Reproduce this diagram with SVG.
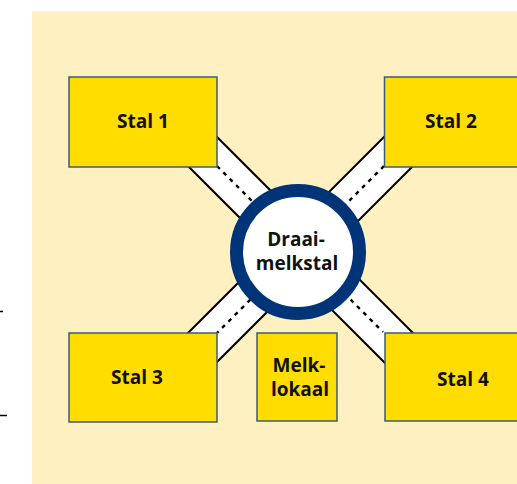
<svg xmlns="http://www.w3.org/2000/svg" width="517" height="484" viewBox="0 0 517 484">
<style>
.box{fill:#FFDD00;stroke:#3E5B76;stroke-width:1.5}
.lbl{font-family:"Open Sans","Liberation Sans",sans-serif;font-weight:bold;font-size:19px;fill:#111;text-anchor:middle}
.rb{stroke:#000;stroke-width:43;fill:none}
.rw{stroke:#fff;stroke-width:39;fill:none}
.rd{stroke:#000;stroke-width:2.4;stroke-dasharray:4 5;fill:none}
</style>
<rect x="32" y="11" width="485" height="473" fill="#FEF0C0"/>
<line x1="0" y1="311.5" x2="3" y2="311.5" stroke="#000" stroke-width="1.5"/>
<line x1="0" y1="415.5" x2="7" y2="415.5" stroke="#000" stroke-width="1.5"/>
<g id="connectors">
<path class="rb" d="M190,139 L420,369 M415,135 L185,365"/>
<path class="rw" d="M190,139 L420,369 M415,135 L185,365"/>
<path class="rd" d="M217,166 L383,332 M384,166 L217,333"/>
</g>
<g id="stal1"><rect class="box" x="69" y="77" width="148" height="90"/><text class="lbl" x="143" y="128">Stal 1</text></g>
<g id="stal2"><rect class="box" x="384.5" y="77" width="150" height="90"/><text class="lbl" x="451" y="128">Stal 2</text></g>
<g id="stal3"><rect class="box" x="69" y="333" width="148" height="89"/><text class="lbl" x="137" y="384">Stal 3</text></g>
<g id="stal4"><rect class="box" x="385" y="333" width="150" height="88"/><text class="lbl" x="463" y="386">Stal 4</text></g>
<g id="melklokaal"><rect class="box" x="257" y="333" width="80" height="88"/><text class="lbl" x="299" y="372">Melk-</text><text class="lbl" x="300" y="396">lokaal</text></g>
<g id="draaimelkstal"><circle cx="298" cy="252" r="61.5" fill="#fff" stroke="#003478" stroke-width="13"/><text class="lbl" x="296" y="246">Draai-</text><text class="lbl" x="297" y="270">melkstal</text></g>
</svg>
